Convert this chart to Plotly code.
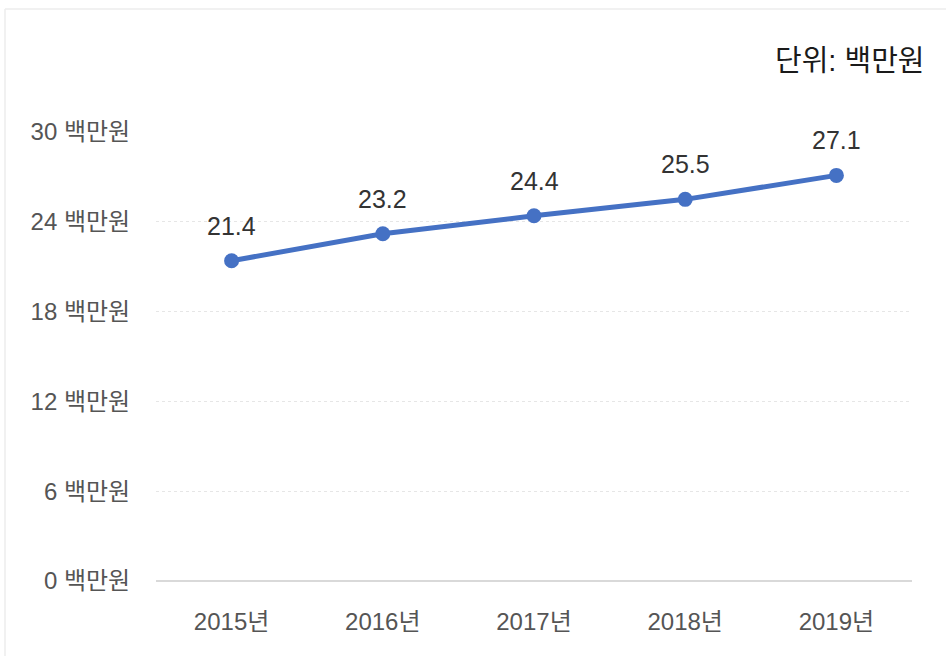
import plotly.graph_objects as go

years = ["2015년", "2016년", "2017년", "2018년", "2019년"]
values = [21.4, 23.2, 24.4, 25.5, 27.1]
y_ticks = [0, 6, 12, 18, 24, 30]
y_tick_labels = [f"{v} 백만원" for v in y_ticks]
unit_label = "단위: 백만원"

W, H = 946, 656
ML, MR, MT, MB = 156, 34, 132, 75
FONT = "Liberation Sans, Arial, Noto Sans CJK KR, sans-serif"

fig = go.Figure()
fig.add_trace(go.Scatter(
    x=years, y=values, mode="lines+markers",
    line=dict(color="#4571c4", width=5),
    marker=dict(color="#4571c4", size=15),
    hoverinfo="skip", cliponaxis=False, showlegend=False,
))
for x, v in zip(years, values):
    fig.add_annotation(x=x, y=v, text=f"{v}", showarrow=False,
                       yshift=35, font=dict(size=25, color="#333333", family=FONT))

pw, ph = W - ML - MR, H - MT - MB
def px(x):
    return (x - ML) / pw
def py(y):
    return (H - MB - y) / ph

fig.add_annotation(xref="paper", yref="paper", x=px(927), y=py(61),
                   xanchor="right", yanchor="middle",
                   text=unit_label, showarrow=False,
                   font=dict(size=29, color="#1a1a1a", family=FONT))

fig.add_shape(type="line", xref="paper", yref="paper", x0=px(5), x1=px(5), y0=py(9), y1=py(H + 5),
              line=dict(color="#ececec", width=1.5))
fig.add_shape(type="line", xref="paper", yref="paper", x0=px(5), x1=px(W + 5), y0=py(9), y1=py(9),
              line=dict(color="#ececec", width=1.5))

fig.update_layout(
    width=W, height=H,
    margin=dict(l=ML, r=MR, t=MT, b=MB),
    paper_bgcolor="white", plot_bgcolor="white",
    font=dict(family=FONT),
    xaxis=dict(
        type="category", range=[-0.5, 4.5], showgrid=False, zeroline=False,
        showline=False, ticks="outside", ticklen=19, tickcolor="rgba(0,0,0,0)",
        tickfont=dict(size=24, color="#555555"),
    ),
    yaxis=dict(
        range=[0, 30], tickvals=y_ticks, ticktext=y_tick_labels,
        showgrid=True, gridcolor="#e6e6e6", griddash="dot", gridwidth=1,
        zeroline=True, zerolinecolor="#d9d9d9", zerolinewidth=2,
        showline=False, ticks="outside", ticklen=20, tickcolor="rgba(0,0,0,0)",
        tickfont=dict(size=24, color="#555555"),
    ),
)

fig.write_html("out.html", config={"displayModeBar": False},
               post_script="document.body.style.margin='0';document.body.style.padding='0';")
